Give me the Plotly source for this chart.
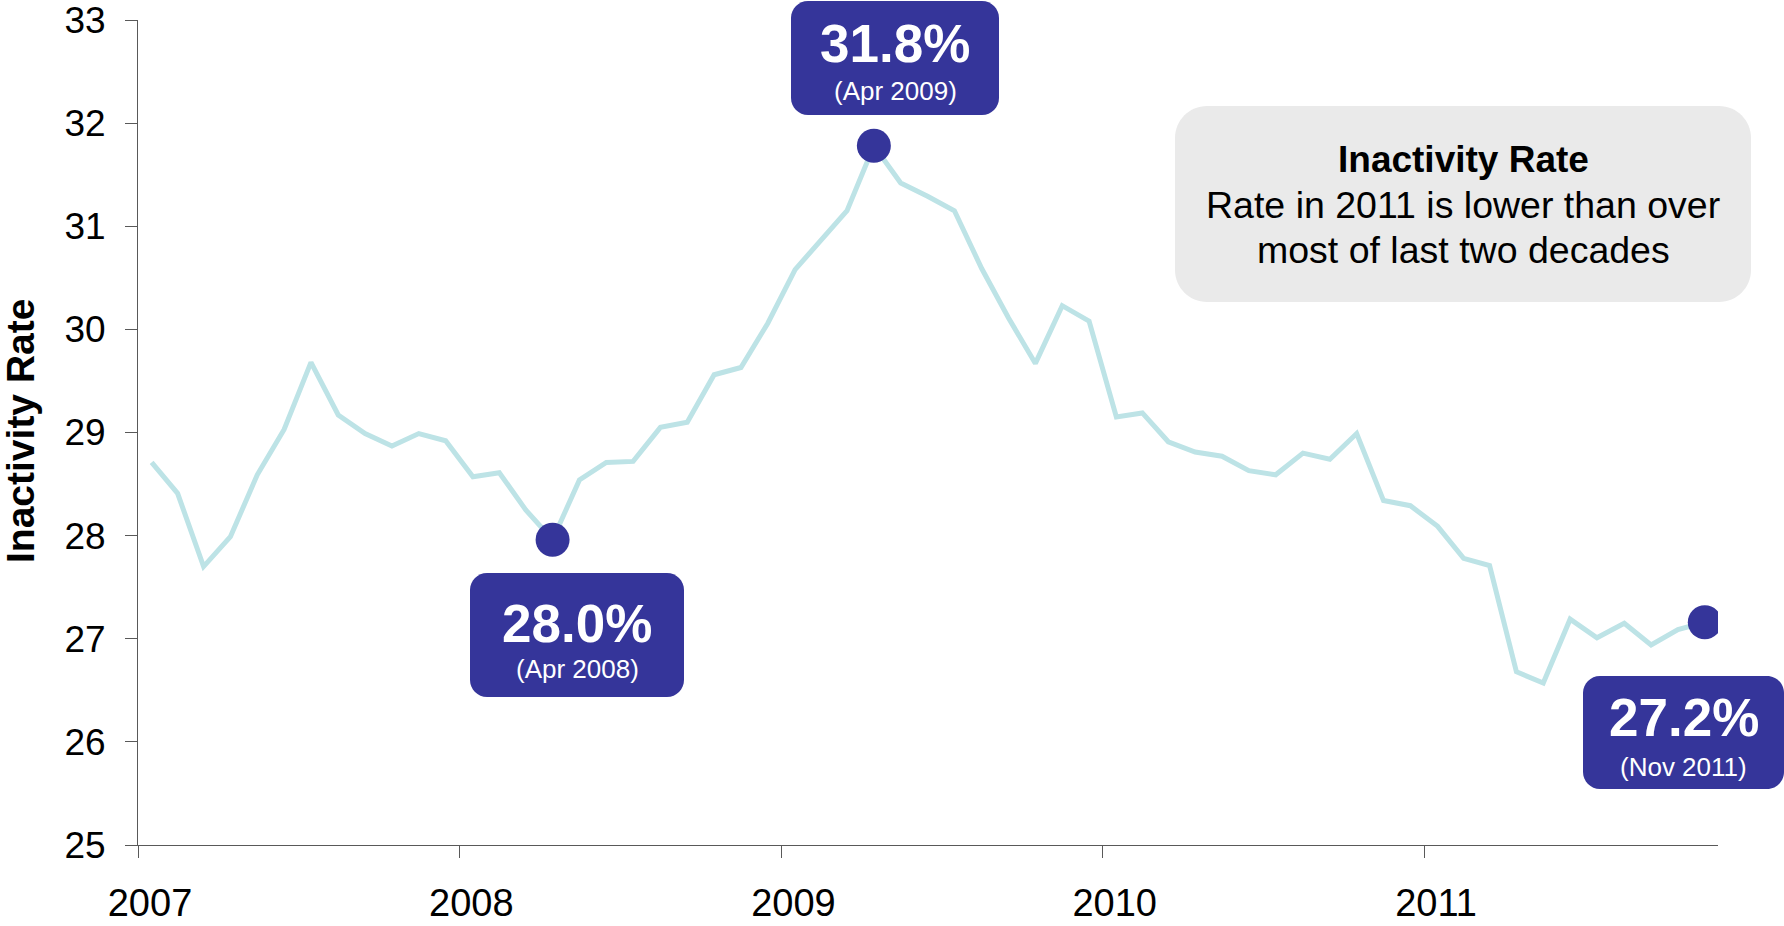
import plotly.graph_objects as go

# ---------------- data ----------------
years = [2007, 2008, 2009, 2010, 2011]
rate_2007 = [28.71, 28.41, 27.70, 27.99, 28.59, 29.03, 29.68, 29.17, 28.99, 28.87, 28.99, 28.92]
rate_2008 = [28.57, 28.61, 28.25, 27.96, 28.54, 28.71, 28.72, 29.05, 29.10, 29.56, 29.63, 30.06]
rate_2009 = [30.58, 30.86, 31.15, 31.78, 31.42, 31.29, 31.15, 30.59, 30.11, 29.67, 30.23, 30.08]
rate_2010 = [29.15, 29.19, 28.91, 28.81, 28.77, 28.63, 28.59, 28.80, 28.74, 28.99, 28.34, 28.29]
rate_2011 = [28.09, 27.78, 27.71, 26.68, 26.57, 27.19, 27.01, 27.15, 26.94, 27.09, 27.16]

rates = rate_2007 + rate_2008 + rate_2009 + rate_2010 + rate_2011
months = [f"{y}-{m:02d}-01" for y in years for m in range(1, 13)][:len(rates)]

highlight_months = ["2008-04-01", "2009-04-01", "2011-11-01"]
highlight_values = [rate_2008[3], rate_2009[3], rate_2011[10]]
highlight_pct = ["28.0%", "31.8%", "27.2%"]
highlight_dates = ["(Apr 2008)", "(Apr 2009)", "(Nov 2011)"]

y_ticks = [25, 26, 27, 28, 29, 30, 31, 32, 33]
x_tickvals = [f"{y}-01-01" for y in years]
x_ticktext = [str(y) for y in years]

box_title = "Inactivity Rate"
box_lines = ["Rate in 2011 is lower than over", "most of last two decades"]

# ---------------- layout geometry (pixels) ----------------
WIDTH, HEIGHT = 1784, 926
L, R, T, B = 138, 66, 20, 81
PW = WIDTH - L - R
PH = HEIGHT - T - B

NAVY = "#35359A"
TEAL = "#BDE3E6"
GREY = "#EAEAEA"
AXIS = "#595959"
FONT = "Liberation Sans, Arial, sans-serif"


def px(xp):
    return (xp - L) / PW


def py(yp):
    return (T + PH - yp) / PH


def rounded_rect(x0, y0, x1, y1, r):
    k = 0.5523 * r
    pts = [
        ("M", [(x0 + r, y0)]),
        ("L", [(x1 - r, y0)]),
        ("C", [(x1 - r + k, y0), (x1, y0 + r - k), (x1, y0 + r)]),
        ("L", [(x1, y1 - r)]),
        ("C", [(x1, y1 - r + k), (x1 - r + k, y1), (x1 - r, y1)]),
        ("L", [(x0 + r, y1)]),
        ("C", [(x0 + r - k, y1), (x0, y1 - r + k), (x0, y1 - r)]),
        ("L", [(x0, y0 + r)]),
        ("C", [(x0, y0 + r - k), (x0 + r - k, y0), (x0 + r, y0)]),
    ]
    s = ""
    for cmd, ps in pts:
        s += cmd + " " + " ".join(f"{px(a):.5f},{py(b):.5f}" for a, b in ps) + " "
    return s + "Z"


fig = go.Figure()

fig.add_trace(go.Scatter(
    x=months, y=rates, mode="lines",
    xperiod="M1", xperiodalignment="middle",
    line=dict(color=TEAL, width=5),
    hoverinfo="skip", showlegend=False,
))

fig.add_trace(go.Scatter(
    x=highlight_months, y=highlight_values, mode="markers",
    xperiod="M1", xperiodalignment="middle",
    marker=dict(color=NAVY, size=34, line=dict(width=0)),
    hoverinfo="skip", showlegend=False,
))

shapes = []
annotations = []

# label boxes: (x0, y0, x1, y1, pct center y, date center y)
label_boxes = [
    (470, 573, 684, 697, 623, 669),
    (791, 1, 999, 115, 44, 91),
    (1583, 676, 1784, 789, 717, 767),
]
for (x0, y0, x1, y1, cy1, cy2), pct, dt in zip(label_boxes, highlight_pct, highlight_dates):
    shapes.append(dict(type="path", xref="paper", yref="paper",
                       path=rounded_rect(x0, y0, x1, y1, 17),
                       fillcolor=NAVY, line=dict(width=0), layer="above"))
    cx = (x0 + x1) / 2
    annotations.append(dict(xref="paper", yref="paper", x=px(cx), y=py(cy1),
                            text=f"<b>{pct}</b>", showarrow=False,
                            xanchor="center", yanchor="middle",
                            font=dict(family=FONT, size=53, color="white")))
    annotations.append(dict(xref="paper", yref="paper", x=px(cx), y=py(cy2),
                            text=dt, showarrow=False,
                            xanchor="center", yanchor="middle",
                            font=dict(family=FONT, size=26, color="white")))

# grey note box
shapes.append(dict(type="path", xref="paper", yref="paper",
                   path=rounded_rect(1175, 106, 1751, 302, 32),
                   fillcolor=GREY, line=dict(width=0), layer="below"))
annotations.append(dict(xref="paper", yref="paper", x=px(1463), y=py(160),
                        text=f"<b>{box_title}</b>", showarrow=False,
                        xanchor="center", yanchor="middle",
                        font=dict(family=FONT, size=37, color="black")))
for line_text, cy in zip(box_lines, [205, 250]):
    annotations.append(dict(xref="paper", yref="paper", x=px(1463), y=py(cy),
                            text=line_text, showarrow=False,
                            xanchor="center", yanchor="middle",
                            font=dict(family=FONT, size=37.5, color="black")))

# y-axis title
annotations.append(dict(xref="paper", yref="paper", x=px(20), y=py(431),
                        text="<b>Inactivity Rate</b>", showarrow=False, textangle=-90,
                        xanchor="center", yanchor="middle",
                        font=dict(family=FONT, size=39, color="black")))

fig.update_layout(
    width=WIDTH, height=HEIGHT,
    margin=dict(l=L, r=R, t=T, b=B, autoexpand=False),
    paper_bgcolor="white", plot_bgcolor="white",
    font=dict(family=FONT, size=37, color="black"),
    shapes=shapes, annotations=annotations,
    showlegend=False,
)

fig.update_xaxes(
    type="date", range=["2007-01-01", "2011-12-01"],
    tickvals=x_tickvals, ticktext=x_ticktext,
    ticks="outside", ticklen=12, tickwidth=1, tickcolor=AXIS,
    showline=True, linecolor=AXIS, linewidth=1,
    showgrid=False, zeroline=False,
    tickfont=dict(family=FONT, size=38, color="black"),
    ticklabelstandoff=12, ticklabelshift=12,
    ticklabeloverflow="allow",
)
fig.update_yaxes(
    range=[25, 33], tickvals=y_ticks,
    ticks="outside", ticklen=12, tickwidth=1, tickcolor=AXIS,
    showline=True, linecolor=AXIS, linewidth=1,
    showgrid=False, zeroline=False,
    tickfont=dict(family=FONT, size=37, color="black"),
    ticklabelstandoff=12,
    ticklabeloverflow="allow",
)

fig.write_html(
    "out.html",
    config={"displayModeBar": False},
    post_script="document.body.style.margin='0';document.body.style.overflow='hidden';",
)
